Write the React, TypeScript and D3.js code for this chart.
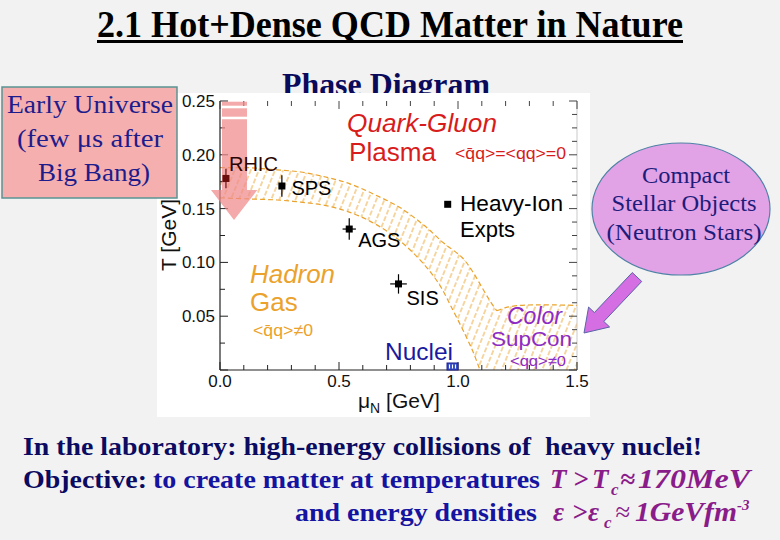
import React from 'react';
import * as d3 from 'd3';

// ---- data ----
const tTickValues = [0.05, 0.1, 0.15, 0.2, 0.25];
const tTickLabels = ['0.05', '0.10', '0.15', '0.20', '0.25'];
const muTickValues = [0, 0.5, 1.0, 1.5];
const muTickLabels = ['0.0', '0.5', '1.0', '1.5'];

const experiments = ['RHIC', 'SPS', 'AGS', 'SIS'];
const expMu = [0.025, 0.26, 0.543, 0.75];
const expT = [0.178, 0.171, 0.131, 0.08];
const expMuErr = [0, 0, 0.028, 0.035];
const expTErr = [0.009, 0.01, 0.01, 0.009];

const upperMu = [0, 0.12, 0.24, 0.34, 0.45, 0.546, 0.65, 0.756, 0.86, 0.94, 1.015, 1.06, 1.1, 1.135, 1.163];
const upperT = [0.188, 0.188, 0.186, 0.184, 0.179, 0.173, 0.163, 0.151, 0.134, 0.118, 0.105, 0.092, 0.077, 0.064, 0.055];
const lowerMu = [0, 0.12, 0.24, 0.34, 0.44, 0.54, 0.65, 0.756, 0.85, 0.92, 0.98, 1.03, 1.065, 1.092];
const lowerT = [0.16, 0.159, 0.158, 0.156, 0.153, 0.147, 0.136, 0.12, 0.1, 0.08, 0.055, 0.033, 0.016, 0];
const cscMu = [1.163, 1.2, 1.26, 1.32, 1.4, 1.5];
const cscT = [0.055, 0.058, 0.06, 0.0605, 0.0605, 0.06];

const nucleiMu = 0.977;

const x = d3.scaleLinear().domain([0, 1.5]).range([220, 577]);
const y = d3.scaleLinear().domain([0, 0.25]).range([370, 101]);

const SANS = 'Liberation Sans, Arial, sans-serif';
const SERIF = 'Liberation Serif, Times New Roman, serif';

export default function App() {
  const line = d3
    .line<[number, number]>()
    .x((d) => x(d[0]))
    .y((d) => y(d[1]))
    .curve(d3.curveCatmullRom);
  const upper: [number, number][] = upperMu.map((m, i) => [m, upperT[i]]);
  const lower: [number, number][] = lowerMu.map((m, i) => [m, lowerT[i]]);
  const csc: [number, number][] = cscMu.map((m, i) => [m, cscT[i]]);
  const lowerRev = [...lower].reverse();
  const bandD =
    line(upper)! +
    line(csc)!.replace(/^M/, 'L') +
    `L${x(1.5)},${y(0)}` +
    line(lowerRev)!.replace(/^M/, 'L') +
    'Z';

  const orange = '#EBA22C';
  const leftMinor = d3.range(0, 0.2501, 0.025);
  const rightMinor = d3.range(0, 0.2501, 0.0125);
  const bottomMinor = d3.range(0, 1.501, 0.1);

  const labelOff = [
    [3, -7],
    [9.5, 8.5],
    [9, 17.5],
    [8, 21.5],
  ];

  // purple arrow geometry
  const tail = [637, 277];
  const tip = [584, 333];
  const dx = tip[0] - tail[0];
  const dy = tip[1] - tail[1];
  const L = Math.hypot(dx, dy);
  const u = [dx / L, dy / L];
  const n = [-u[1], u[0]];
  const hw = 6.5;
  const hh = 14.5;
  const hl = 22;
  const neck = [tip[0] - u[0] * hl, tip[1] - u[1] * hl];
  const pa = [
    [tail[0] + n[0] * hw, tail[1] + n[1] * hw],
    [neck[0] + n[0] * hw, neck[1] + n[1] * hw],
    [neck[0] + n[0] * hh, neck[1] + n[1] * hh],
    tip,
    [neck[0] - n[0] * hh, neck[1] - n[1] * hh],
    [neck[0] - n[0] * hw, neck[1] - n[1] * hw],
    [tail[0] - n[0] * hw, tail[1] - n[1] * hw],
  ]
    .map((p) => p.join(','))
    .join(' ');

  const navy = '#0B0B62';
  const blue = '#1414A0';
  const purple = '#8A1C8A';

  return (
    <svg
      width={780}
      height={540}
      style={{ position: 'absolute', left: 0, top: 0 }}
      xmlns="http://www.w3.org/2000/svg"
    >
      <defs>
        <pattern id="hatch" patternUnits="userSpaceOnUse" width={7.5} height={14} patternTransform="rotate(22)">
          <line x1={3.75} y1={0} x2={3.75} y2={14} stroke={orange} strokeWidth={0.9} strokeDasharray="5 2" />
        </pattern>
      </defs>
      <rect x={0} y={0} width={780} height={540} fill="#F2F2F2" />

      {/* Title */}
      <text x={97} y={37} fontFamily={SERIF} fontWeight="bold" fontSize={38} fill="#000" textLength={586} lengthAdjust="spacingAndGlyphs">
        2.1 Hot+Dense QCD Matter in Nature
      </text>
      <rect x={97} y={40} width={586} height={3} fill="#000" />

      <text x={282} y={95} fontFamily={SERIF} fontWeight="bold" fontSize={32} fill="#0A0A5C" textLength={208} lengthAdjust="spacingAndGlyphs">
        Phase Diagram
      </text>

      {/* plot background */}
      <rect x={157} y={93} width={433} height={324} fill="#FFFFFF" />

      {/* band */}
      <path d={bandD} fill="url(#hatch)" stroke="none" />
      <path d={line(upper)!} fill="none" stroke={orange} strokeWidth={1.2} strokeDasharray="5 3" />
      <path d={line(lower)!} fill="none" stroke={orange} strokeWidth={1.2} strokeDasharray="5 3" />
      <path d={line(csc)!} fill="none" stroke={orange} strokeWidth={1.2} strokeDasharray="5 3" />

      {/* axes */}
      <line x1={x(0)} y1={y(0.25)} x2={x(0)} y2={y(0)} stroke="#222" strokeWidth={1.2} />
      <line x1={x(0)} y1={y(0)} x2={x(1.5)} y2={y(0)} stroke="#222" strokeWidth={1.2} />
      <line x1={x(1.5)} y1={y(0.25)} x2={x(1.5)} y2={y(0)} stroke="#bbb" strokeWidth={0.8} />
      {leftMinor.map((t, i) => (
        <line key={'l' + i} x1={x(0)} x2={x(0) + (i % 2 === 0 ? 8 : 5)} y1={y(t)} y2={y(t)} stroke="#222" strokeWidth={1} />
      ))}
      {rightMinor.map((t, i) => (
        <line key={'r' + i} x1={x(1.5)} x2={x(1.5) - (i % 4 === 0 ? 8 : 5)} y1={y(t)} y2={y(t)} stroke="#444" strokeWidth={1} />
      ))}
      {bottomMinor.map((m, i) => (
        <g key={'b' + i}>
          <line x1={x(m)} x2={x(m)} y1={y(0)} y2={y(0) - (i % 5 === 0 ? 8 : 5)} stroke="#222" strokeWidth={1} />
          <line x1={x(m)} x2={x(m)} y1={y(0.25)} y2={y(0.25) + (i % 5 === 0 ? 8 : 5)} stroke="#444" strokeWidth={1} />
        </g>
      ))}
      {tTickValues.map((t, i) => (
        <text key={'tl' + i} x={215} y={y(t)} dy="0.35em" textAnchor="end" fontFamily={SANS} fontSize={17} fill="#111">
          {tTickLabels[i]}
        </text>
      ))}
      {muTickValues.map((m, i) => (
        <text key={'ml' + i} x={x(m)} y={387} textAnchor="middle" fontFamily={SANS} fontSize={17} fill="#111">
          {muTickLabels[i]}
        </text>
      ))}
      <text x={358} y={408} fontFamily={SANS} fontSize={21} fill="#111">
        μ<tspan dy={5} fontSize={14}>N</tspan>
        <tspan dy={-5}> [GeV]</tspan>
      </text>
      <text transform="translate(176,235) rotate(-90)" textAnchor="middle" fontFamily={SANS} fontSize={21} fill="#111">
        T [GeV]
      </text>

      {/* region labels */}
      <text x={347} y={132} fontFamily={SANS} fontStyle="italic" fontSize={25} fill="#D81B1B" textLength={150} lengthAdjust="spacingAndGlyphs">
        Quark-Gluon
      </text>
      <text x={349} y={161} fontFamily={SANS} fontSize={26} fill="#D81B1B" textLength={87} lengthAdjust="spacingAndGlyphs">
        Plasma
      </text>
      <text x={455} y={159} fontFamily={SANS} fontSize={17} fill="#D81B1B" textLength={111} lengthAdjust="spacingAndGlyphs">
        {'<q\u0304q>=<qq>=0'}
      </text>
      <text x={250} y={283} fontFamily={SANS} fontStyle="italic" fontSize={26} fill={orange} textLength={85} lengthAdjust="spacingAndGlyphs">
        Hadron
      </text>
      <text x={250} y={311} fontFamily={SANS} fontSize={26} fill={orange}>
        Gas
      </text>
      <text x={253} y={336} fontFamily={SANS} fontSize={17} fill={orange} textLength={60} lengthAdjust="spacingAndGlyphs">
        {'<q\u0304q>≠0'}
      </text>
      <text x={385} y={360} fontFamily={SANS} fontSize={24} fill="#1A1AA0" textLength={68} lengthAdjust="spacingAndGlyphs">
        Nuclei
      </text>
      <rect x={x(nucleiMu) - 5.5} y={y(0) - 7} width={11} height={7} fill="#3A52C8" stroke="#1A1A90" strokeWidth={1} />
      <line x1={x(nucleiMu) - 3} x2={x(nucleiMu) - 3} y1={y(0) - 5.5} y2={y(0) - 1.5} stroke="#fff" strokeWidth={1} />
      <line x1={x(nucleiMu)} x2={x(nucleiMu)} y1={y(0) - 5.5} y2={y(0) - 1.5} stroke="#fff" strokeWidth={1} />
      <line x1={x(nucleiMu) + 3} x2={x(nucleiMu) + 3} y1={y(0) - 5.5} y2={y(0) - 1.5} stroke="#fff" strokeWidth={1} />

      <text x={507} y={324} fontFamily={SANS} fontStyle="italic" fontSize={23} fill="#8E2BC4" textLength={55} lengthAdjust="spacingAndGlyphs">
        Color
      </text>
      <text x={491} y={346} fontFamily={SANS} fontSize={21} fill="#8E2BC4" textLength={81} lengthAdjust="spacingAndGlyphs">
        SupCon
      </text>
      <text x={510} y={366} fontFamily={SANS} fontSize={15} fill="#8E2BC4" textLength={56} lengthAdjust="spacingAndGlyphs">
        {'<qq>≠0'}
      </text>

      {/* legend */}
      <rect x={447.7 - 3.5} y={204.3 - 3.5} width={7} height={7} fill="#000" />
      <text x={460} y={211} fontFamily={SANS} fontSize={22} fill="#000" textLength={103} lengthAdjust="spacingAndGlyphs">
        Heavy-Ion
      </text>
      <text x={460} y={237} fontFamily={SANS} fontSize={22} fill="#000">
        Expts
      </text>

      {/* early-universe arrow (semi transparent) */}
      <g fill="#F08A8A" opacity={0.72}>
        <rect x={222} y={101.7} width={25} height={4} />
        <rect x={222} y={108.3} width={25} height={8.4} />
        <polygon points={`222,119.3 247,119.3 247,190 257.3,190 234,220 211,190 222,190`} />
      </g>

      {/* experiments */}
      {experiments.map((name, i) => {
        const cx = x(expMu[i]);
        const cy = y(expT[i]);
        const col = i === 0 ? '#6A0E0E' : '#000';
        return (
          <g key={name}>
            {expTErr[i] > 0 && (
              <line x1={cx} x2={cx} y1={y(expT[i] + expTErr[i])} y2={y(expT[i] - expTErr[i])} stroke={col} strokeWidth={1.2} />
            )}
            {expMuErr[i] > 0 && (
              <line x1={x(expMu[i] - expMuErr[i])} x2={x(expMu[i] + expMuErr[i])} y1={cy} y2={cy} stroke={col} strokeWidth={1.2} />
            )}
            <rect x={cx - 3.5} y={cy - 3.5} width={7} height={7} fill={col} />
            <text x={cx + labelOff[i][0]} y={cy + labelOff[i][1]} fontFamily={SANS} fontSize={20} fill={i === 0 ? '#2a0505' : '#000'}>
              {name}
            </text>
          </g>
        );
      })}

      {/* Early universe box */}
      <rect x={2} y={87} width={175} height={111} fill="#F5AFAF" stroke="#5A9494" strokeWidth={1.5} />
      <g fontFamily={SERIF} fontSize={25} fill="#1C1C8C" textAnchor="middle">
        <text x={90} y={113} textLength={166} lengthAdjust="spacingAndGlyphs">Early Universe</text>
        <text x={90} y={147} textLength={146} lengthAdjust="spacingAndGlyphs">(few μs after</text>
        <text x={94} y={181} textLength={112} lengthAdjust="spacingAndGlyphs">Big Bang)</text>
      </g>

      {/* compact stellar objects */}
      <ellipse cx={681} cy={209} rx={89} ry={66} fill="#E2A2E6" stroke="#4F82A6" strokeWidth={1.2} />
      <g fontFamily={SERIF} fontSize={23} fill="#1C1C7C" textAnchor="middle">
        <text x={686} y={183} textLength={88} lengthAdjust="spacingAndGlyphs">Compact</text>
        <text x={684} y={211} textLength={145} lengthAdjust="spacingAndGlyphs">Stellar Objects</text>
        <text x={684} y={240} textLength={155} lengthAdjust="spacingAndGlyphs">(Neutron Stars)</text>
      </g>
      <polygon points={pa} fill="#D46EE2" stroke="#5A64A8" strokeWidth={1} />

      {/* bottom text */}
      <g fontFamily={SERIF} fontWeight="bold" fontSize={25}>
        <text x={23} y={455} fill={navy} textLength={679} lengthAdjust="spacingAndGlyphs" style={{ whiteSpace: 'pre' }}>
          {'In the laboratory: high-energy collisions of  heavy nuclei!'}
        </text>
        <text x={23} y={488} fill={navy} textLength={124} lengthAdjust="spacingAndGlyphs">Objective:</text>
        <text x={153} y={488} fill={blue} textLength={387} lengthAdjust="spacingAndGlyphs">to create matter at temperatures</text>
        <text x={295} y={521} fill={blue} textLength={242} lengthAdjust="spacingAndGlyphs">and energy densities</text>
      </g>
      <g fontFamily={SERIF} fontWeight="bold" fontStyle="italic" fontSize={27} fill={purple}>
        <text x={550} y={488}>T</text>
        <text x={573} y={488}>{'>'}</text>
        <text x={592} y={488}>T</text>
        <text x={611} y={495} fontSize={17}>c</text>
        <text x={620} y={488}>≈</text>
        <text x={638} y={488} textLength={112} lengthAdjust="spacingAndGlyphs">170MeV</text>
        <text x={553} y={521}>ε</text>
        <text x={572} y={521}>{'>'}</text>
        <text x={588} y={521}>ε</text>
        <text x={604} y={528} fontSize={17}>c</text>
        <text x={615} y={521} fontWeight="normal">≈</text>
        <text x={635} y={521} textLength={102} lengthAdjust="spacingAndGlyphs">1GeVfm</text>
        <text x={737} y={510} fontSize={15}>-3</text>
      </g>
    </svg>
  );
}
